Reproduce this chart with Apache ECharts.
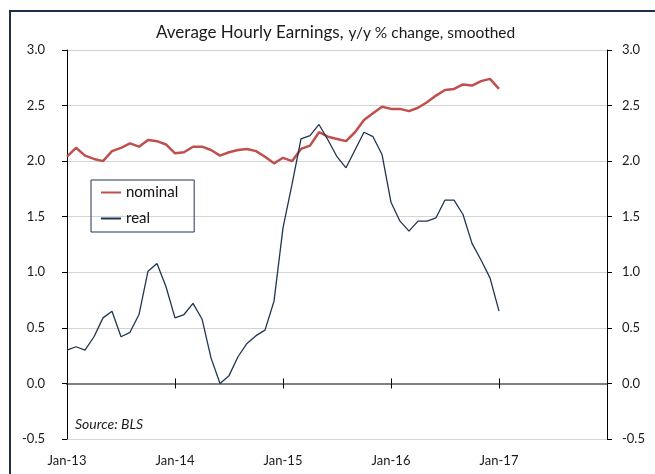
<!DOCTYPE html>
<html>
<head>
<meta charset="utf-8">
<script src="https://cdn.jsdelivr.net/npm/echarts@6/dist/echarts.min.js"></script>
<style>
  html, body { margin: 0; padding: 0; background: #fff; }
  #chart { width: 655px; height: 474px; }
</style>
</head>
<body>
<div id="chart"></div>
<script>
  // months Jan-13 .. Jan-18, axis runs across all of them
  const months = [];
  const mNames = ['Jan','Feb','Mar','Apr','May','Jun','Jul','Aug','Sep','Oct','Nov','Dec'];
  for (let y = 13; y <= 18; y++) {
    for (let m = 0; m < 12; m++) {
      if (y === 18 && m > 0) break;
      months.push(mNames[m] + '-' + y);
    }
  }

  // y/y % change, Jan-13 .. Jan-17
  const nominal = [
    2.04, 2.12, 2.05, 2.02, 2.00, 2.09, 2.12, 2.16, 2.13, 2.19, 2.18, 2.15,
    2.07, 2.08, 2.13, 2.13, 2.10, 2.05, 2.08, 2.10, 2.11, 2.09, 2.04, 1.98,
    2.03, 2.00, 2.11, 2.14, 2.26, 2.22, 2.20, 2.18, 2.26, 2.37, 2.43, 2.49,
    2.47, 2.47, 2.45, 2.48, 2.53, 2.59, 2.64, 2.65, 2.69, 2.68, 2.72, 2.74,
    2.65
  ];
  const real = [
    0.30, 0.33, 0.30, 0.42, 0.59, 0.65, 0.42, 0.46, 0.62, 1.01, 1.08, 0.87,
    0.59, 0.62, 0.72, 0.58, 0.23, 0.00, 0.07, 0.24, 0.36, 0.43, 0.48, 0.74,
    1.40, 1.79, 2.20, 2.23, 2.33, 2.19, 2.04, 1.94, 2.10, 2.26, 2.22, 2.06,
    1.63, 1.46, 1.37, 1.46, 1.46, 1.49, 1.65, 1.65, 1.52, 1.26, 1.11, 0.95,
    0.65
  ];
  const yTicks = { min: -0.5, max: 3.0, step: 0.5 };

  const font = 'Lato, "Open Sans", sans-serif';
  const chart = echarts.init(document.getElementById('chart'));

  const zeroAxis = (inside) => ({
    type: 'category',
    data: months,
    boundaryGap: false,
    position: 'bottom',
    axisLine: { show: true, onZero: true, onZeroAxisIndex: 0, lineStyle: { color: '#808080', width: 2 } },
    axisTick: { show: true, inside: inside, length: 5, interval: 11, lineStyle: { color: '#000', width: 1 } },
    axisLabel: { show: false },
    splitLine: { show: false }
  });

  chart.setOption({
    animation: false,
    title: {
      text: '{a|Average Hourly Earnings,} {b|y/y % change, smoothed}',
      left: 151,
      top: 19,
      textStyle: {
        fontWeight: 'normal',
        rich: {
          a: { fontFamily: font, fontSize: 17, fontWeight: 'normal', color: '#1a1a1a' },
          b: { fontFamily: font, fontSize: 15.5, fontWeight: 'normal', color: '#1a1a1a' }
        }
      }
    },
    grid: { left: 67, right: 48, top: 50, bottom: 35 },
    legend: {
      orient: 'vertical',
      left: 91,
      top: 180,
      padding: [5, 16, 6, 10],
      itemGap: 11,
      itemWidth: 20,
      itemHeight: 2,
      icon: 'rect',
      borderColor: '#1f3552',
      borderWidth: 1,
      textStyle: { fontFamily: font, fontSize: 15, color: '#111', lineHeight: 15 },
      data: ['nominal', 'real']
    },
    xAxis: [
      {
        type: 'category',
        data: months,
        boundaryGap: false,
        position: 'bottom',
        axisLine: { show: false, onZero: false },
        axisTick: { show: false },
        axisLabel: {
          fontFamily: font, fontSize: 13, color: '#1a1a1a', margin: 15,
          interval: (i) => i % 12 === 0 && i < 60
        },
        splitLine: { show: false }
      },
      zeroAxis(false),
      zeroAxis(true)
    ],
    yAxis: [
      {
        type: 'value',
        min: yTicks.min, max: yTicks.max, interval: yTicks.step,
        axisLine: { show: true, lineStyle: { color: '#000', width: 1 } },
        axisTick: { show: true, length: 5, lineStyle: { color: '#000' } },
        axisLabel: { fontFamily: font, fontSize: 13, color: '#1a1a1a', margin: 22, formatter: (v) => v.toFixed(1) },
        splitLine: { show: true, lineStyle: { color: '#d4d4d4', width: 1 } }
      },
      {
        type: 'value',
        position: 'right',
        min: yTicks.min, max: yTicks.max, interval: yTicks.step,
        axisLine: { show: true, lineStyle: { color: '#000', width: 1 } },
        axisTick: { show: true, length: 5, lineStyle: { color: '#000' } },
        axisLabel: { fontFamily: font, fontSize: 13, color: '#1a1a1a', margin: 15, formatter: (v) => v.toFixed(1) },
        splitLine: { show: false }
      }
    ],
    series: [
      {
        name: 'nominal', type: 'line', data: nominal,
        xAxisIndex: 0, yAxisIndex: 0,
        symbol: 'none',
        itemStyle: { color: '#c0504d' },
        lineStyle: { color: '#c0504d', width: 2.5 }
      },
      {
        name: 'real', type: 'line', data: real,
        xAxisIndex: 0, yAxisIndex: 0,
        symbol: 'none',
        itemStyle: { color: '#1f3552' },
        lineStyle: { color: '#1f3552', width: 1.3 }
      }
    ],
    graphic: [
      {
        type: 'rect',
        shape: { x: 10, y: 11, width: 700, height: 500 },
        style: { fill: 'none', stroke: '#1f2d4a', lineWidth: 2 },
        silent: true
      },
      {
        type: 'text',
        left: 75, top: 417,
        style: { text: 'Source: BLS', font: 'italic 14px ' + font, fill: '#1a1a1a' }
      }
    ]
  });
</script>
</body>
</html>
